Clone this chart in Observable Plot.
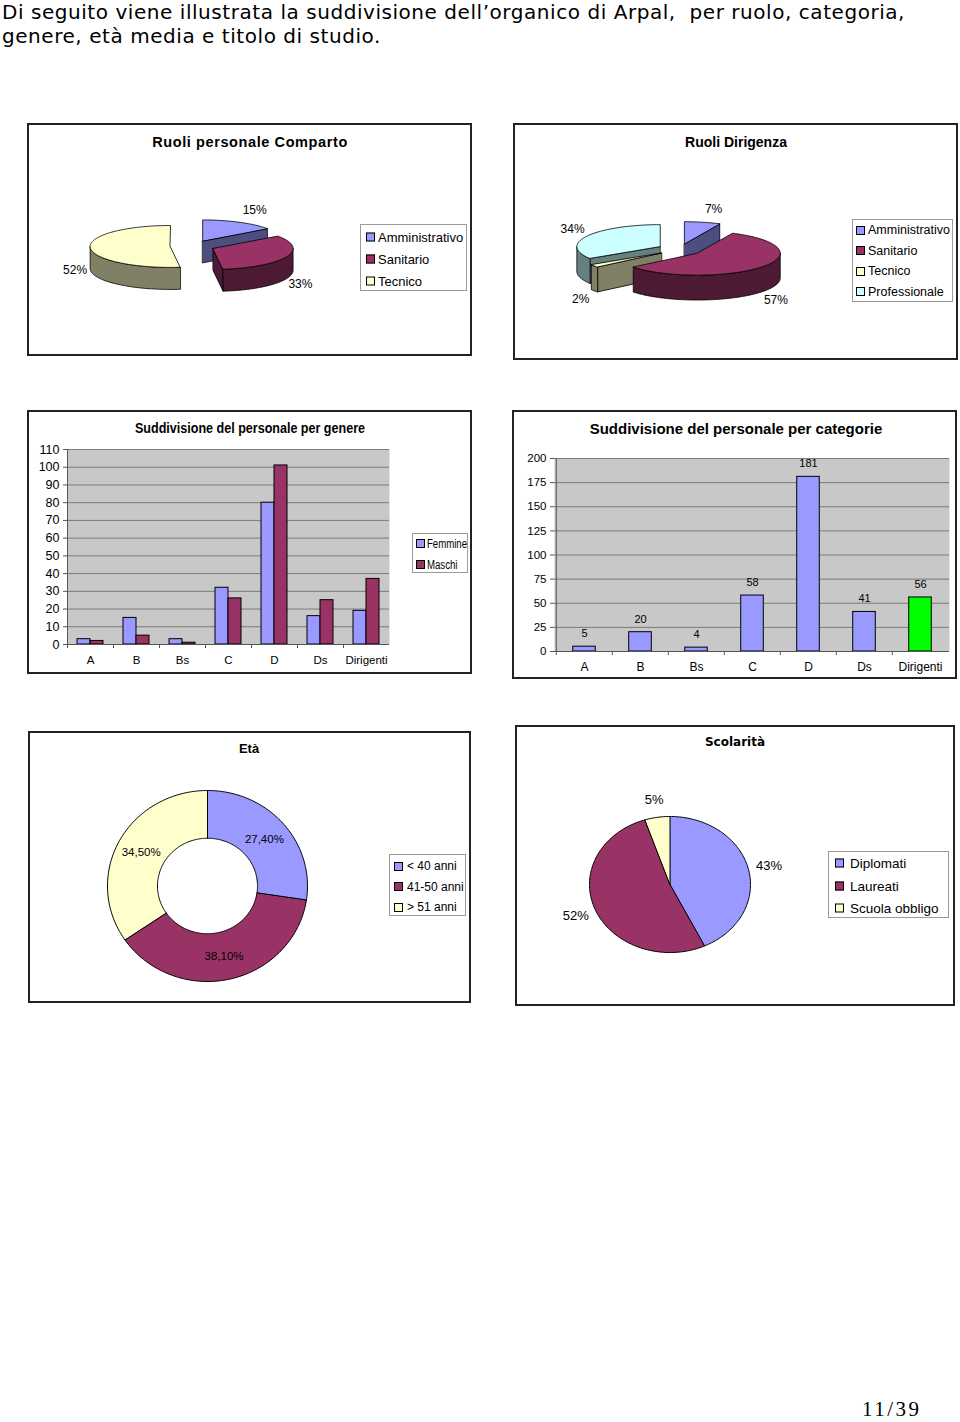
<!DOCTYPE html>
<html>
<head>
<meta charset="utf-8">
<script src="https://cdn.jsdelivr.net/npm/d3@7"></script>
<script src="https://cdn.jsdelivr.net/npm/@observablehq/plot@0.6"></script>
<style>
  html, body { margin: 0; padding: 0; background: #fff; }
  #page { position: relative; width: 960px; height: 1422px; overflow: hidden; font-family: "Liberation Sans", Arial, sans-serif; color: #000; }
  .box { position: absolute; border: 2px solid #222; box-sizing: border-box; }
  .ttl { position: absolute; white-space: nowrap; font-weight: bold; }
  .legend { position: absolute; border: 1px solid #9a9a9a; box-sizing: border-box; background: #fff; }
  .legend .row { position: absolute; left: 0; white-space: nowrap; display: flex; align-items: center; }
  .legend .sw { display: inline-block; width: 7px; height: 7px; border: 1px solid #000; box-sizing: content-box; flex: none; }
  #hdr { position: absolute; left: 2px; top: 0px; font-family: "DejaVu Sans", Verdana, sans-serif; font-size: 20px; letter-spacing: 0.55px; line-height: 24px; white-space: pre; }
  #foot { position: absolute; left: 862px; top: 1399px; font-family: "Liberation Serif", "Times New Roman", serif; font-size: 21px; line-height: 21px; letter-spacing: 2.5px; }
  svg { position: absolute; }
</style>
</head>
<body>
<div id="page">
  <div id="hdr">Di seguito viene illustrata la suddivisione dell’organico di Arpal,  per ruolo, categoria,
genere, età media e titolo di studio.</div>
  <div id="foot">11/39</div>
</div>
<script>
// ================= DATA =================
const ruoliComparto = ["Amministrativo", "Sanitario", "Tecnico"];
const ruoliCompartoPerc = [15, 33, 52];

const ruoliDirigenza = ["Amministrativo", "Sanitario", "Tecnico", "Professionale"];
const ruoliDirigenzaPerc = [7, 57, 2, 34];

const categorie = ["A", "B", "Bs", "C", "D", "Ds", "Dirigenti"];
const generi = ["Femmine", "Maschi"];
const femmine = [3, 15, 3, 32, 80, 16, 19];
const maschi = [2, 5, 1, 26, 101, 25, 37];
const ticksGenere = [0, 10, 20, 30, 40, 50, 60, 70, 80, 90, 100, 110];

const totaleCategorie = [5, 20, 4, 58, 181, 41, 56];
const ticksCategorie = [0, 25, 50, 75, 100, 125, 150, 175, 200];

const fasceEta = ["< 40 anni", "41-50 anni", "> 51 anni"];
const fasceEtaPerc = [27.4, 38.1, 34.5];
const fasceEtaEtichette = ["27,40%", "38,10%", "34,50%"];

const scolarita = ["Diplomati", "Laureati", "Scuola obbligo"];
const scolaritaPerc = [43, 52, 5];

// ================= STYLE =================
const BLUE = "#9999ff", PURPLE = "#993366", YELLOW = "#ffffcc", CYAN = "#ccffff", GREEN = "#00ff00";
const BG = "#c8c8c8", GRID = "#7a7a7a", AX = "#555";
const SANS = "'Liberation Sans', Arial, sans-serif";
const roleColor = {Amministrativo: BLUE, Sanitario: PURPLE, Tecnico: YELLOW, Professionale: CYAN};

const page = document.getElementById("page");

function addBox(x, y, w, h) {
  const d = document.createElement("div");
  d.className = "box";
  Object.assign(d.style, {left: x + "px", top: y + "px", width: w + "px", height: h + "px"});
  page.appendChild(d);
}
function addTitle(text, cx, cy, size, o = {}) {
  const d = document.createElement("div");
  d.className = "ttl";
  d.textContent = text;
  Object.assign(d.style, {
    left: cx + "px", top: cy + "px", fontSize: size + "px", fontFamily: o.family || SANS,
    letterSpacing: (o.ls || 0) + "px",
    transform: `translate(-50%, -50%) scaleX(${o.sx || 1})`
  });
  page.appendChild(d);
}
function addLegend(x, y, w, h, labels, colors, o) {
  const d = document.createElement("div");
  d.className = "legend";
  Object.assign(d.style, {left: x + "px", top: y + "px", width: w + "px", height: h + "px"});
  labels.forEach((lab, i) => {
    const r = document.createElement("div");
    r.className = "row";
    Object.assign(r.style, {
      top: (o.first + i * o.step) + "px", left: o.swx + "px", fontSize: o.fs + "px",
      fontFamily: o.family || SANS
    });
    const s = document.createElement("span");
    s.className = "sw";
    s.style.background = colors[i];
    s.style.marginRight = o.gap + "px";
    const t = document.createElement("span");
    t.textContent = lab;
    t.style.display = "inline-block";
    t.style.transformOrigin = "0 50%";
    t.style.transform = `scaleX(${o.sx || 1})`;
    r.style.transform = "translateY(-50%)";
    r.appendChild(s);
    r.appendChild(t);
    d.appendChild(r);
  });
  page.appendChild(d);
}
function place(svg, x, y) {
  svg.style.left = x + "px";
  svg.style.top = y + "px";
  page.appendChild(svg);
}

// ---------- pie geometry helpers ----------
function slicesOf(values) {
  const total = d3.sum(values);
  let acc = 0;
  return values.map((v, i) => {
    const a0 = acc / total * 2 * Math.PI; acc += v;
    const a1 = acc / total * 2 * Math.PI;
    return {i, v, a0, a1, mid: (a0 + a1) / 2};
  });
}
function arc(ox, oy, rx, ry, t0, t1, z) {
  const n = Math.max(2, Math.ceil(Math.abs(t1 - t0) / 0.02));
  return d3.range(n + 1).map(k => {
    const t = t0 + (t1 - t0) * k / n;
    return {x: ox + rx * Math.sin(t), y: oy - ry * Math.cos(t) + z};
  });
}
function half(c) { const r = d3.rgb(c); return d3.rgb(r.r * 0.5, r.g * 0.5, r.b * 0.5).formatHex(); }

function unitScales(o) {
  return {
    x: {domain: [-o.cx / o.R, (o.W - o.cx) / o.R], range: [0, o.W], axis: null},
    y: {domain: [-o.cy / o.R, (o.H - o.cy) / o.R], range: [0, o.H], axis: null}
  };
}

function pie3D(values, colors, o) {
  const sl = slicesOf(values);
  const polys = [];
  let id = 0;
  const push = (pts, fill) => { id++; pts.forEach(p => polys.push({id, x: p.x, y: p.y, fill})); };
  sl.forEach(s => { s.ox = o.explode * Math.sin(s.mid); s.oy = -o.explode * o.tilt * Math.cos(s.mid); });
  const order = [...sl].sort((a, b) => a.oy - b.oy);
  for (const s of order) {
    const top = colors[s.i], side = half(top);
    const c = {x: s.ox, y: s.oy}, cb = {x: s.ox, y: s.oy + o.depth};
    const at = (t, z) => ({x: s.ox + Math.sin(t), y: s.oy - o.tilt * Math.cos(t) + z});
    for (const [t, face] of [[s.a0, s.a0 - Math.PI / 2], [s.a1, s.a1 + Math.PI / 2]]) {
      if (Math.cos(face) < -1e-6) push([c, at(t, 0), at(t, o.depth), cb], side);
    }
    const t0 = Math.max(s.a0, Math.PI / 2), t1 = Math.min(s.a1, 1.5 * Math.PI);
    if (t1 > t0) push([...arc(s.ox, s.oy, 1, o.tilt, t0, t1, 0), ...arc(s.ox, s.oy, 1, o.tilt, t1, t0, o.depth)], side);
    push([c, ...arc(s.ox, s.oy, 1, o.tilt, s.a0, s.a1, 0)], top);
  }
  const labels = sl.map(s => ({
    x: o.kx * Math.sin(s.mid) + (Math.cos(s.mid) > 0.5 ? o.topShift : 0),
    y: -o.ky * o.tilt * Math.cos(s.mid) + (Math.cos(s.mid) < 0 ? o.depth : 0),
    text: values[s.i] + "%"
  }));
  return Plot.plot({
    width: o.W, height: o.H, margin: 0,
    ...unitScales(o),
    color: {type: "identity"},
    style: {background: "transparent", overflow: "visible", fontFamily: SANS, color: "#000"},
    marks: [
      Plot.line(polys, {x: "x", y: "y", z: "id", fill: "fill", stroke: "#000", strokeWidth: 0.8, curve: "linear-closed", strokeLinejoin: "round"}),
      Plot.text(labels, {x: "x", y: "y", text: "text", fontSize: 12, fill: "#000"})
    ]
  });
}

function pie2D(values, colors, texts, o) {
  const sl = slicesOf(values);
  const polys = [];
  let id = 0;
  for (const s of sl) {
    id++;
    const outer = arc(0, 0, 1, o.tilt, s.a0, s.a1, 0);
    const inner = o.inner > 0 ? arc(0, 0, o.inner, o.inner * o.tilt, s.a1, s.a0, 0) : [{x: 0, y: 0}];
    [...outer, ...inner].forEach(p => polys.push({id, x: p.x, y: p.y, fill: colors[s.i]}));
  }
  const labels = sl.map(s => ({x: o.k * Math.sin(s.mid), y: -o.k * o.tilt * Math.cos(s.mid), text: texts[s.i]}));
  return Plot.plot({
    width: o.W, height: o.H, margin: 0,
    ...unitScales(o),
    color: {type: "identity"},
    style: {background: "transparent", overflow: "visible", fontFamily: SANS, color: "#000"},
    marks: [
      Plot.line(polys, {x: "x", y: "y", z: "id", fill: "fill", stroke: "#000", strokeWidth: 1, curve: "linear-closed", strokeLinejoin: "round"}),
      Plot.text(labels, {x: "x", y: "y", text: "text", fontSize: o.fs, fill: "#000"})
    ]
  });
}

// ================= CHART 1: Ruoli personale Comparto =================
addBox(27, 123, 445, 233);
place(pie3D(ruoliCompartoPerc, ruoliComparto.map(r => roleColor[r]),
  {W: 445, H: 233, cx: 165, cy: 122.6, R: 80, tilt: 0.262, depth: 0.275, explode: 0.28, kx: 1.47, ky: 1.9, topShift: 0.11}), 27, 123);
addTitle("Ruoli personale Comparto", 250, 142, 14.5, {ls: 0.6});
addLegend(360, 224, 107, 67, ruoliComparto, ruoliComparto.map(r => roleColor[r]),
  {first: 12, step: 22, swx: 5, gap: 3, fs: 13});

// ================= CHART 2: Ruoli Dirigenza =================
addBox(513, 123, 445, 237);
place(pie3D(ruoliDirigenzaPerc, ruoliDirigenza.map(r => roleColor[r]),
  {W: 445, H: 237, cx: 166, cy: 126, R: 83, tilt: 0.265, depth: 0.30, explode: 0.27, kx: 1.47, ky: 1.9, topShift: 0.09}), 513, 123);
addTitle("Ruoli Dirigenza", 736, 142, 14);
addLegend(852, 219, 101, 83, ruoliDirigenza, ruoliDirigenza.map(r => roleColor[r]),
  {first: 10, step: 20.6, swx: 3, gap: 3, fs: 12.5});

// ================= CHART 3: per genere =================
{
  const W = 445, H = 264, ml = 40, mr = 83, mt = 39, mb = 30;
  const bw = (W - ml - mr) / categorie.length, barW = 13, off = (bw - 2 * barW) / 2;
  const data = categorie.map((c, i) => ({cat: c, f: femmine[i], m: maschi[i]}));
  addBox(27, 410, W, H);
  place(Plot.plot({
    width: W, height: H, marginLeft: ml, marginRight: mr, marginTop: mt, marginBottom: mb,
    x: {domain: categorie, padding: 0, label: null},
    y: {domain: [0, 110], label: null},
    style: {background: "transparent", overflow: "visible", fontFamily: SANS, color: "#000"},
    marks: [
      Plot.frame({fill: BG, stroke: "none"}),
      Plot.gridY(ticksGenere, {stroke: GRID, strokeOpacity: 1}),
      Plot.barY(data, {x: "cat", y: "f", fill: BLUE, stroke: "#000", strokeWidth: 1, insetLeft: off, insetRight: off + barW}),
      Plot.barY(data, {x: "cat", y: "m", fill: PURPLE, stroke: "#000", strokeWidth: 1, insetLeft: off + barW, insetRight: off}),
      Plot.ruleY([0], {stroke: AX}),
      Plot.ruleX([categorie[0]], {dx: -bw / 2, stroke: AX}),
      Plot.axisY({ticks: ticksGenere, tickSize: 4, tickPadding: 4, label: null, fontSize: 12.5, stroke: AX}),
      Plot.axisX({tickSize: 4, tickFormat: () => "", dx: -bw / 2, label: null, stroke: AX}),
      Plot.axisX({tickSize: 0, tickPadding: 11, label: null, fontSize: 11.5})
    ]
  }), 27, 410);
  addTitle("Suddivisione del personale per genere", 250, 428, 14.5, {sx: 0.865});
  addLegend(412, 533, 56, 40, generi, [BLUE, PURPLE], {first: 9.5, step: 21, swx: 3, gap: 2, fs: 12, sx: 0.8});
}

// ================= CHART 4: per categorie =================
{
  const W = 445, H = 269, ml = 42, mr = 8, mt = 48, mb = 28;
  const bw = (W - ml - mr) / categorie.length, barW = 23, inset = (bw - barW) / 2;
  const data = categorie.map((c, i) => ({cat: c, n: totaleCategorie[i]}));
  addBox(512, 410, W, H);
  place(Plot.plot({
    width: W, height: H, marginLeft: ml, marginRight: mr, marginTop: mt, marginBottom: mb,
    x: {domain: categorie, padding: 0, label: null},
    y: {domain: [0, 200], label: null},
    color: {type: "identity"},
    style: {background: "transparent", overflow: "visible", fontFamily: SANS, color: "#000"},
    marks: [
      Plot.frame({fill: BG, stroke: "none"}),
      Plot.gridY(ticksCategorie, {stroke: GRID, strokeOpacity: 1}),
      Plot.barY(data, {x: "cat", y: "n", fill: d => d.cat === "Dirigenti" ? GREEN : BLUE, stroke: "#000", strokeWidth: 1, insetLeft: inset, insetRight: inset}),
      Plot.ruleY([0], {stroke: AX}),
      Plot.ruleX([categorie[0]], {dx: -bw / 2, stroke: AX}),
      Plot.axisY({ticks: ticksCategorie, tickSize: 4, tickPadding: 4, label: null, fontSize: 11.5, stroke: AX}),
      Plot.axisX({tickSize: 4, tickFormat: () => "", dx: -bw / 2, label: null, stroke: AX}),
      Plot.axisX({tickSize: 0, tickPadding: 11, label: null, fontSize: 12}),
      Plot.text(data, {x: "cat", y: "n", text: d => String(d.n), dy: -13, fontSize: 11, fill: "#000"})
    ]
  }), 512, 410);
  addTitle("Suddivisione del personale per categorie", 736, 428, 15);
}

// ================= CHART 5: Età (donut) =================
addBox(28, 731, 443, 272);
place(pie2D(fasceEtaPerc, [BLUE, PURPLE, YELLOW], fasceEtaEtichette,
  {W: 443, H: 272, cx: 179, cy: 154.5, R: 100, tilt: 0.955, inner: 0.5, k: 0.75, fs: 11.5}), 28, 731);
addTitle("Età", 249, 748, 13);
addLegend(389, 854, 77, 62, fasceEta, [BLUE, PURPLE, YELLOW], {first: 11, step: 20.5, swx: 4, gap: 4, fs: 12});

// ================= CHART 6: Scolarità =================
addBox(515, 725, 440, 281);
place(pie2D(scolaritaPerc, [BLUE, PURPLE, YELLOW], scolaritaPerc.map(v => v + "%"),
  {W: 440, H: 281, cx: 154.5, cy: 159, R: 80.5, tilt: 0.845, inner: 0, k: 1.26, fs: 13}), 515, 725);
addTitle("Scolarità", 735, 742, 12, {family: "'DejaVu Sans', Verdana, sans-serif"});
addLegend(828, 851, 121, 67, scolarita, [BLUE, PURPLE, YELLOW], {first: 11, step: 22.5, swx: 6, gap: 6, fs: 13.5});
</script>
</body>
</html>
